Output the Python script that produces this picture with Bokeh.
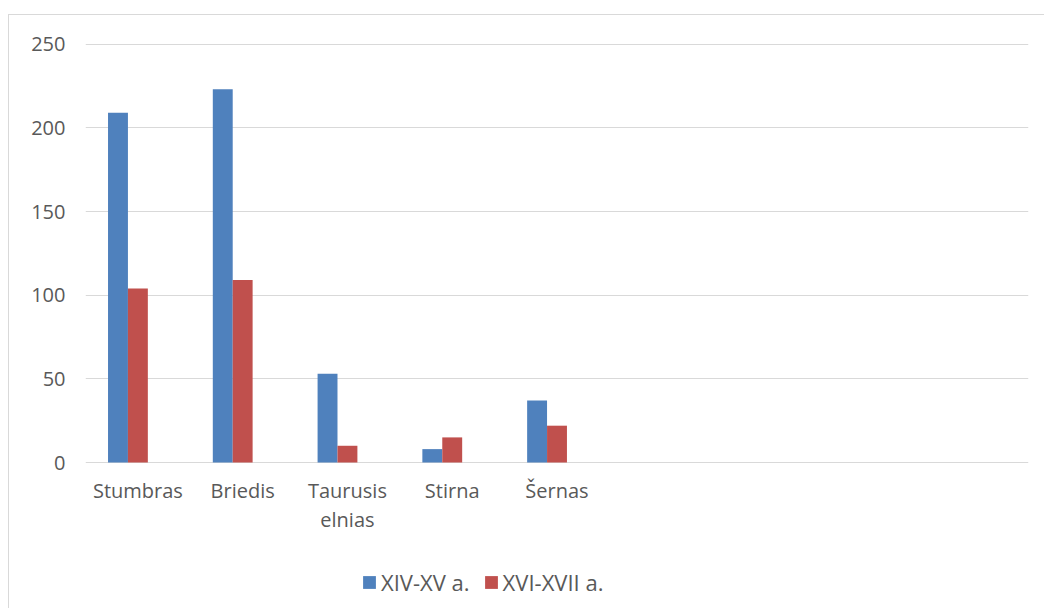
import numpy as np
from bokeh.plotting import figure
from bokeh.models import ColumnDataSource, FixedTicker, Range1d, Legend, LegendItem
from bokeh.core.properties import value
from bokeh.transform import dodge
from bokeh.embed import file_html
from bokeh.resources import INLINE

categories = ["Stumbras", "Briedis", "Taurusis\nelnias", "Stirna", "Šernas"]
series_names = ["XIV-XV a.", "XVI-XVII a."]
xiv_xv = [209, 223, 53, 8, 37]
xvi_xvii = [104, 109, 10, 15, 22]
n_slots = 9
y_ticks = [0, 50, 100, 150, 200, 250]

FONT = "Open Sans"
TXT = "#595959"
BLUE = "#4F81BD"
RED = "#C0504D"

# layout (pixels)
FRAME_H_DATA = 420          # pixels covering 0..251
Y_TOP = 251
FRAME_H = 566               # frame extends to bottom of the chart box
y_bottom = Y_TOP - FRAME_H * Y_TOP / FRAME_H_DATA

pos = list(np.arange(len(categories)) + 0.5)
src = ColumnDataSource(dict(x=pos, a=xiv_xv, b=xvi_xvii, cat=categories, zero=[0] * len(pos)))

p = figure(width=1035, height=593, output_backend="svg", toolbar_location=None,
           x_range=Range1d(0, n_slots), y_range=Range1d(y_bottom, Y_TOP),
           x_axis_location=None,
           min_border_left=76, min_border_right=16, min_border_top=27, min_border_bottom=0)
p.frame_width = 943
p.frame_height = FRAME_H
p.styles = {"border-top": "1px solid #d9d9d9", "border-left": "1px solid #d9d9d9",
            "margin-top": "14px", "margin-left": "8px"}
p.outline_line_color = None
p.background_fill_color = "white"

w = 0.19
r1 = p.vbar(x=dodge("x", -w, range=p.x_range), top="a", width=w, source=src, color=BLUE, line_color=None)
r2 = p.vbar(x=dodge("x", 0, range=p.x_range), top="b", width=w, source=src, color=RED, line_color=None)

# category labels under the zero line
p.text(x="x", y="zero", text="cat", source=src, text_align="center", text_baseline="top",
       y_offset=14, text_font=value(FONT), text_font_size="20px", text_color=TXT,
       text_line_height=1.1)

p.xgrid.grid_line_color = None
p.ygrid.grid_line_color = "#d9d9d9"
p.ygrid.grid_line_width = 1
p.yaxis.ticker = FixedTicker(ticks=y_ticks)
ax = p.yaxis[0]
ax.axis_line_color = None
ax.major_tick_line_color = None
ax.minor_tick_line_color = None
ax.major_tick_in = 0
ax.major_tick_out = 0
ax.major_label_text_font = FONT
ax.major_label_text_font_size = "20px"
ax.major_label_text_color = TXT
ax.major_label_standoff = 20

legend = Legend(items=[LegendItem(label=series_names[0], renderers=[r1]),
                       LegendItem(label=series_names[1], renderers=[r2])],
                orientation="horizontal", location=(276, 11),
                glyph_width=16, glyph_height=16, label_standoff=4, spacing=13,
                padding=5, margin=0, border_line_color=None, background_fill_alpha=0,
                label_text_font=FONT, label_text_font_size="22px", label_text_color=TXT)
p.add_layout(legend, "center")

open("out.html", "w").write(file_html(p, INLINE))
